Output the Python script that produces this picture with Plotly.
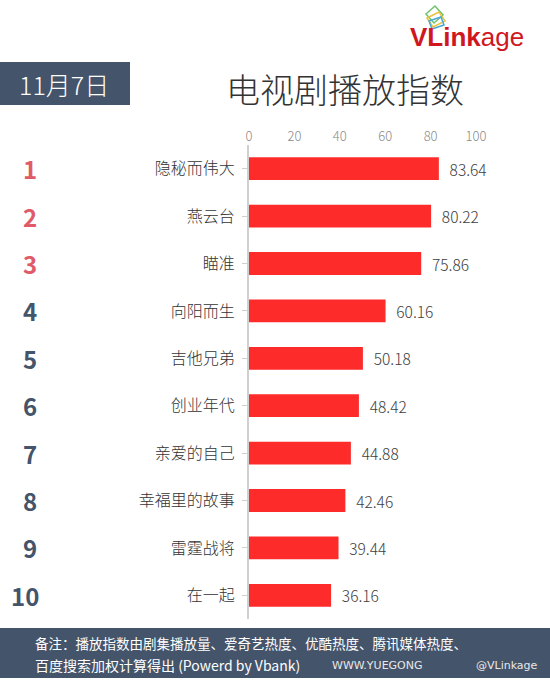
import plotly.graph_objects as go

dramas = ["隐秘而伟大", "燕云台", "瞄准", "向阳而生", "吉他兄弟", "创业年代", "亲爱的自己", "幸福里的故事", "雷霆战将", "在一起"]
values = [83.64, 80.22, 75.86, 60.16, 50.18, 48.42, 44.88, 42.46, 39.44, 36.16]
ranks = ["1", "2", "3", "4", "5", "6", "7", "8", "9", "10"]
x_ticks = [0, 20, 40, 60, 80, 100]

FONT = "Noto Sans CJK SC"
SLATE = "#44546a"

W, H = 550, 680
ML, MR, MT, MB = 249, 74, 145, 61

fig = go.Figure()
fig.add_trace(go.Bar(
    x=values, y=dramas, orientation="h",
    marker=dict(color="#fe2b2b", line=dict(width=0)),
    width=0.48,
    text=["\u2002" + f"{v:.2f}" for v in values], textposition="outside",
    textfont=dict(family=FONT, size=15.5, color="#404040", weight=300),
    cliponaxis=False,
))

fig.update_layout(
    width=W, height=H,
    margin=dict(l=ML, r=MR, t=MT, b=MB),
    paper_bgcolor="white", plot_bgcolor="white",
    showlegend=False,
    font=dict(family=FONT),
    xaxis=dict(range=[0, 100], side="top", tickvals=x_ticks,
               tickfont=dict(family=FONT, size=13, color="#8c8c8c", weight=300),
               showgrid=False, zeroline=False, showline=False, ticks=""),
    yaxis=dict(categoryorder="array", categoryarray=dramas, autorange="reversed",
               tickfont=dict(family=FONT, size=16, color="#333333", weight=300),
               showline=True, linecolor="#d0d0d0", linewidth=2,
               ticks="outside", ticklen=5, tickcolor="#d0d0d0",
               showgrid=False, zeroline=False, ticklabelstandoff=4),
)


def px(x):
    return (x - ML) / (W - ML - MR)


def py(y):
    return (H - MB - y) / (H - MT - MB)


anns = []
for i, r in enumerate(ranks):
    anns.append(dict(x=px(30 if len(r) == 1 else 25), y=dramas[i], xref="paper", yref="y", text=f"<b>{r}</b>",
                     showarrow=False, xanchor="center", yanchor="middle",
                     font=dict(family=FONT, size=24, color="#e05a68" if i < 3 else SLATE)))

shapes = [
    dict(type="rect", xref="paper", yref="paper", x0=px(0), x1=px(130), y0=py(105), y1=py(62),
         fillcolor=SLATE, line=dict(width=0), layer="below"),
    dict(type="rect", xref="paper", yref="paper", x0=px(0), x1=px(550), y0=py(678), y1=py(628),
         fillcolor=SLATE, line=dict(width=0), layer="below"),
    # logo icon
    dict(type="path", xref="paper", yref="paper",
         path=f"M {px(426)},{py(14)} L {px(435)},{py(6)} L {px(443)},{py(15)} L {px(434)},{py(23)} Z",
         line=dict(color="#6cc36c", width=1.5)),
    dict(type="path", xref="paper", yref="paper",
         path=f"M {px(427)},{py(18)} L {px(439)},{py(12)} L {px(445)},{py(21)} L {px(433)},{py(27)} Z",
         line=dict(color="#e8c33c", width=1.5)),
    dict(type="path", xref="paper", yref="paper",
         path=f"M {px(429)},{py(21)} L {px(441)},{py(17)} L {px(444)},{py(25)} L {px(432)},{py(29)} Z",
         line=dict(color="#4aa8d8", width=1.5)),
]

anns += [
    dict(x=px(64), y=py(84), xref="paper", yref="paper", text="11月7日", showarrow=False,
         xanchor="center", yanchor="middle", font=dict(family=FONT, size=25, color="white", weight=300)),
    dict(x=px(345), y=py(88), xref="paper", yref="paper", text="电视剧播放指数", showarrow=False,
         xanchor="center", yanchor="middle", font=dict(family=FONT, size=34, color="#333333", weight=300)),
    dict(x=px(408), y=py(37), xref="paper", yref="paper",
         text="<b>VLink</b>age", showarrow=False,
         xanchor="left", yanchor="middle", font=dict(family="Liberation Sans", size=26, color="#d0161e")),
    dict(x=px(33), y=py(643), xref="paper", yref="paper",
         text="备注：播放指数由剧集播放量、爱奇艺热度、优酷热度、腾讯媒体热度、", showarrow=False,
         xanchor="left", yanchor="middle", font=dict(family=FONT, size=13.5, color="white")),
    dict(x=px(33), y=py(665), xref="paper", yref="paper",
         text="百度搜索加权计算得出 (Powerd by Vbank)", showarrow=False,
         xanchor="left", yanchor="middle", font=dict(family=FONT, size=14, color="white")),
    dict(x=px(330), y=py(665), xref="paper", yref="paper",
         text="WWW.YUEGONG", showarrow=False,
         xanchor="left", yanchor="middle", font=dict(family="DejaVu Sans", size=11, color="#e8e8e8")),
    dict(x=px(540), y=py(665), xref="paper", yref="paper",
         text="@VLinkage", showarrow=False,
         xanchor="right", yanchor="middle", font=dict(family="DejaVu Sans", size=11, color="#e8e8e8")),
]

fig.update_layout(annotations=anns, shapes=shapes)

fig.write_html("out.html")
